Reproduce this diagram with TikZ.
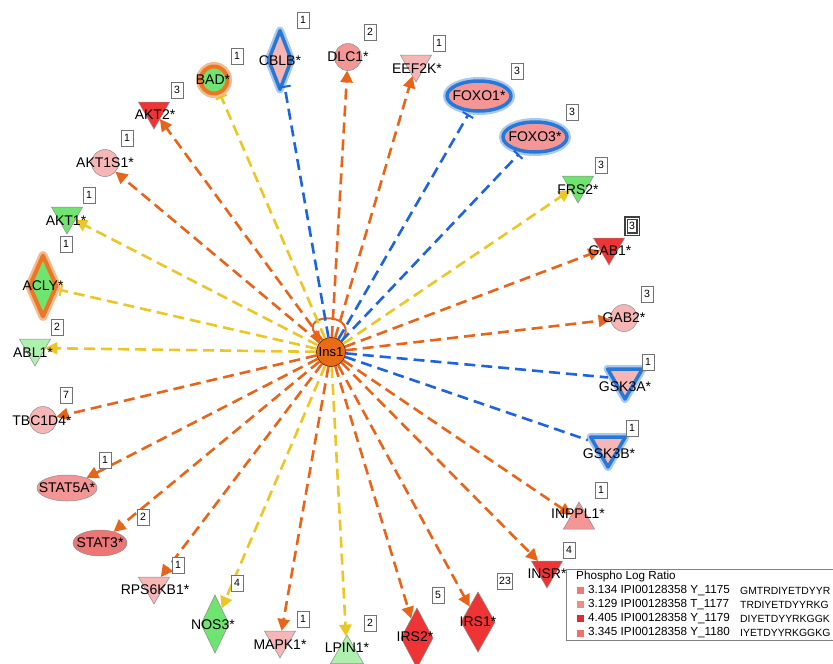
\documentclass[tikz,border=0pt]{standalone}
\usepackage{fontspec}
\setmainfont{Liberation Sans}
\usetikzlibrary{arrows.meta, shapes.geometric}

\definecolor{actorange}{RGB}{232,100,24}
\definecolor{actyellow}{RGB}{236,198,36}
\definecolor{inhblue}{RGB}{30,100,220}
\definecolor{glowblue}{RGB}{40,120,215}
\definecolor{gloworange}{RGB}{236,118,36}
\definecolor{insorange}{RGB}{232,108,20}
\definecolor{pinkA}{RGB}{247,182,182}
\definecolor{pinkB}{RGB}{244,150,150}
\definecolor{pinkC}{RGB}{236,118,118}
\definecolor{redA}{RGB}{238,52,52}
\definecolor{greenA}{RGB}{112,228,112}
\definecolor{greenB}{RGB}{174,240,174}
\definecolor{ratioA}{RGB}{240,120,120}
\definecolor{ratioB}{RGB}{242,138,138}
\definecolor{ratioC}{RGB}{230,40,50}
\definecolor{ratioD}{RGB}{240,112,112}

\begin{document}
\begin{tikzpicture}[x=1pt, y=-1pt,
    gene/.style={draw=black!45, line width=0.5pt, inner sep=0pt, outer sep=0pt},
    circ/.style={gene, circle, minimum size=27pt},
    tridown/.style={gene, regular polygon, regular polygon sides=3, shape border rotate=180, minimum size=36pt},
    triup/.style={gene, regular polygon, regular polygon sides=3, minimum size=38pt},
    diam/.style={gene, diamond, minimum width=30pt, minimum height=60pt},
    oval/.style={gene, ellipse, minimum width=60pt, minimum height=26pt},
    blueglow/.style={preaction={draw=glowblue!40, line width=8pt, line join=round}, draw=glowblue, line width=3.5pt, line join=round, outer sep=4pt},
    orangeglow/.style={preaction={draw=gloworange!50, line width=9pt, line join=round}, draw=gloworange, line width=4pt, line join=round, outer sep=4pt},
    lbl/.style={font=\fontsize{14}{14}\selectfont, inner sep=0pt},
    count/.style={draw=black!55, line width=0.7pt, fill=white, font=\fontsize{10.5}{10.5}\selectfont, minimum width=12pt, minimum height=16pt, inner sep=1.5pt},
    edge/.style={line width=2.6pt, dash pattern=on 11pt off 6pt},
    oarrow/.style={edge, actorange, -{Triangle[length=12pt, width=12pt]}},
    yarrow/.style={edge, actyellow, -{Triangle[length=12pt, width=12pt]}},
    ybar/.style={edge, actyellow, -{Bar[width=12pt, line width=2pt]}},
    bbar/.style={edge, inhblue, -{Bar[width=12pt, line width=2pt]}},
    bline/.style={edge, inhblue},
    legtext/.style={font=\fontsize{11.7}{11.7}\selectfont, inner sep=0pt, anchor=west},
    legseq/.style={font=\fontsize{10.4}{10.4}\selectfont, inner sep=0pt, anchor=west}
]
    \useasboundingbox (0,0) rectangle (833,664);

    % Hub
    \node[circle, draw=black!60!insorange, fill=insorange, line width=0.8pt, minimum size=29pt, inner sep=0pt, font=\fontsize{13}{13}\selectfont] (ins) at (331,352) {Ins1};
    \draw[actorange, line width=2pt, {Triangle[length=10pt, width=10pt]}-] (ins.135) .. controls (300,312) and (362,312) .. (ins.45);

    % === Shapes ===
    \node[circ, fill=greenA, orangeglow] (bad) at (214,80) {};
    \node[diam, fill=pinkA, blueglow, minimum width=26pt, minimum height=62pt] (cblb) at (280,60) {};
    \node[circ, fill=pinkB] (dlc1) at (348,57) {};
    \node[tridown, fill=pinkA] (eef2k) at (416,64) {};
    \node[oval, fill=pinkB, blueglow, minimum width=64pt, minimum height=30pt] (foxo1) at (479,96) {};
    \node[oval, fill=pinkB, blueglow, minimum width=64pt, minimum height=30pt] (foxo3) at (535,137) {};
    \node[tridown, fill=greenA] (frs2) at (578,185) {};
    \node[tridown, fill=redA] (gab1) at (609,247) {};
    \node[circ, fill=pinkA] (gab2) at (624,318) {};
    \node[tridown, fill=pinkA, blueglow, minimum size=40pt] (gsk3a) at (625,379) {};
    \node[tridown, fill=pinkA, blueglow, minimum size=40pt] (gsk3b) at (608,447) {};
    \node[triup, fill=pinkB, minimum size=36pt] (inppl1) at (579,520) {};
    \node[tridown, fill=redA] (insr) at (547,570) {};
    \node[diam, fill=redA, minimum width=34pt] (irs1) at (478,622) {};
    \node[diam, fill=redA, minimum width=32pt] (irs2) at (417,638) {};
    \node[triup, fill=greenB] (lpin1) at (347,654) {};
    \node[tridown, fill=pinkA] (mapk1) at (280,640) {};
    \node[diam, fill=greenA, minimum width=28pt, minimum height=58pt] (nos3) at (215,624) {};
    \node[tridown, fill=pinkA] (rps6kb1) at (154,586) {};
    \node[oval, fill=pinkC, minimum width=54pt] (stat3) at (100,543) {};
    \node[oval, fill=pinkB] (stat5a) at (67,488) {};
    \node[circ, fill=pinkA] (tbc1d4) at (43,420) {};
    \node[tridown, fill=greenB] (abl1) at (35,348) {};
    \node[diam, fill=greenA, orangeglow, minimum width=30pt, minimum height=64pt] (acly) at (43,286) {};
    \node[tridown, fill=greenA] (akt1) at (67,216) {};
    \node[circ, fill=pinkA] (akt1s1) at (105,163) {};
    \node[tridown, fill=redA] (akt2) at (154,111) {};

    % === Edges ===
    \draw[ybar] (ins) -- (bad);
    \draw[bbar] (ins) -- (cblb);
    \draw[oarrow] (ins) -- (dlc1);
    \draw[oarrow] (ins) -- (eef2k);
    \draw[bbar] (ins) -- (foxo1);
    \draw[bbar] (ins) -- (foxo3);
    \draw[yarrow] (ins) -- (frs2);
    \draw[oarrow] (ins) -- (gab1);
    \draw[oarrow] (ins) -- (gab2);
    \draw[bline] (ins) -- (gsk3a);
    \draw[bline] (ins) -- (gsk3b);
    \draw[oarrow] (ins) -- (inppl1);
    \draw[oarrow] (ins) -- (insr);
    \draw[oarrow] (ins) -- (irs1);
    \draw[oarrow] (ins) -- (irs2);
    \draw[yarrow] (ins) -- (lpin1);
    \draw[oarrow] (ins) -- (mapk1);
    \draw[yarrow] (ins) -- (nos3);
    \draw[oarrow] (ins) -- (rps6kb1);
    \draw[oarrow] (ins) -- (stat3);
    \draw[oarrow] (ins) -- (stat5a);
    \draw[oarrow] (ins) -- (tbc1d4);
    \draw[yarrow] (ins) -- (abl1);
    \draw[ybar] (ins) -- (acly);
    \draw[yarrow] (ins) -- (akt1);
    \draw[oarrow] (ins) -- (akt1s1);
    \draw[oarrow] (ins) -- (akt2);

    % === Labels ===
    \node[lbl] at (213,80) {BAD*};
    \node[lbl] at (280,61) {CBLB*};
    \node[lbl] at (348,57) {DLC1*};
    \node[lbl] at (417,69) {EEF2K*};
    \node[lbl] at (479,96) {FOXO1*};
    \node[lbl] at (535,137) {FOXO3*};
    \node[lbl] at (578,190) {FRS2*};
    \node[lbl] at (610,251) {GAB1*};
    \node[lbl] at (624,318) {GAB2*};
    \node[lbl] at (625,387) {GSK3A*};
    \node[lbl] at (609,454) {GSK3B*};
    \node[lbl] at (578,514) {INPPL1*};
    \node[lbl] at (547,574) {INSR*};
    \node[lbl] at (478,622) {IRS1*};
    \node[lbl] at (415,637) {IRS2*};
    \node[lbl] at (347,648) {LPIN1*};
    \node[lbl] at (280,645) {MAPK1*};
    \node[lbl] at (213,625) {NOS3*};
    \node[lbl] at (155,590) {RPS6KB1*};
    \node[lbl] at (100,543) {STAT3*};
    \node[lbl] at (67,488) {STAT5A*};
    \node[lbl] at (42,421) {TBC1D4*};
    \node[lbl] at (33,353) {ABL1*};
    \node[lbl] at (43,286) {ACLY*};
    \node[lbl] at (66,221) {AKT1*};
    \node[lbl] at (105,163) {AKT1S1*};
    \node[lbl] at (155,115) {AKT2*};

    % === Counts ===
    \node[count] at (237,56) {1};
    \node[count] at (303,20) {1};
    \node[count] at (370,32) {2};
    \node[count] at (439,43) {1};
    \node[count] at (517,71) {3};
    \node[count] at (572,112) {3};
    \node[count] at (601,165) {3};
    \node[count, draw=black!75, line width=1.2pt, double=white, double distance=1pt] at (632,226) {3};
    \node[count] at (647,294) {3};
    \node[count] at (648,362) {1};
    \node[count] at (632,428) {1};
    \node[count] at (601,490) {1};
    \node[count] at (569,550) {4};
    \node[count] at (505,581) {23};
    \node[count] at (438,595) {5};
    \node[count] at (370,623) {2};
    \node[count] at (303,619) {1};
    \node[count] at (237,583) {4};
    \node[count] at (178,565) {1};
    \node[count] at (143,517) {2};
    \node[count] at (105,460) {1};
    \node[count] at (66,395) {7};
    \node[count] at (57,327) {2};
    \node[count] at (66,244) {1};
    \node[count] at (89,195) {1};
    \node[count] at (127,138) {1};
    \node[count] at (177,90) {3};

    % === Legend ===
    \node[draw=black!50, fill=white, line width=0.8pt, minimum width=280pt, minimum height=71pt, anchor=north west, inner sep=0pt] (legend) at (566,569) {};
    \node[legtext] at (576,576) {Phospho Log Ratio};
    \fill[ratioA] (577,587) rectangle (584,594);
    \fill[ratioB] (577,601) rectangle (584,608);
    \fill[ratioC] (577,615) rectangle (584,622);
    \fill[ratioD] (577,630) rectangle (584,637);
    \node[legtext] at (588,591) {3.134 IPI00128358 Y\_1175};
    \node[legtext] at (588,605) {3.129 IPI00128358 T\_1177};
    \node[legtext] at (588,619) {4.405 IPI00128358 Y\_1179};
    \node[legtext] at (588,633) {3.345 IPI00128358 Y\_1180};
    \node[legseq] at (740,591) {GMTRDIYETDYYR};
    \node[legseq] at (740,605) {TRDIYETDYYRKG};
    \node[legseq] at (740,619) {DIYETDYYRKGGK};
    \node[legseq] at (740,633) {IYETDYYRKGGKG};
\end{tikzpicture}
\end{document}
